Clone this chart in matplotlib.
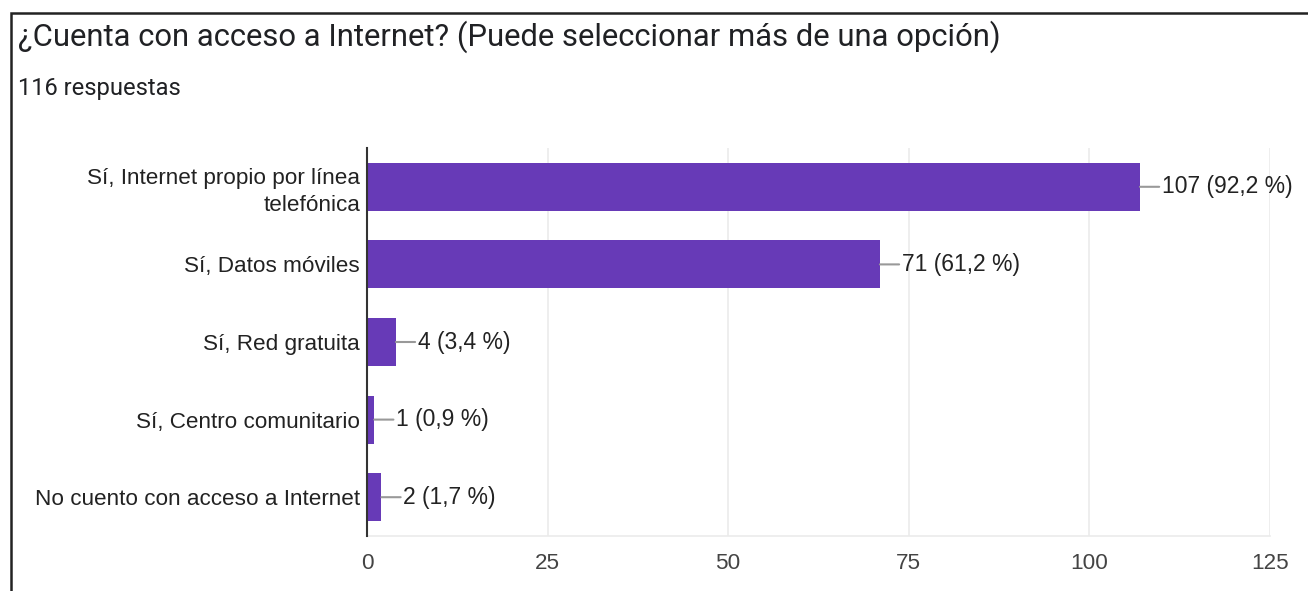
import matplotlib
matplotlib.use("Agg")
import matplotlib.pyplot as plt
from matplotlib.patches import Rectangle

categories = ["Sí, Internet propio por línea\ntelefónica", "Sí, Datos móviles",
              "Sí, Red gratuita", "Sí, Centro comunitario",
              "No cuento con acceso a Internet"]
values = [107, 71, 4, 1, 2]
value_labels = ["107 (92,2 %)", "71 (61,2 %)", "4 (3,4 %)", "1 (0,9 %)", "2 (1,7 %)"]
xticks = [0, 25, 50, 75, 100, 125]
title = "¿Cuenta con acceso a Internet? (Puede seleccionar más de una opción)"
subtitle = "116 respuestas"

W, H = 1308, 591
fig = plt.figure(figsize=(W / 100, H / 100), dpi=100)
fig.patch.set_facecolor("white")

# outer border
fig.patches.append(Rectangle((10.5 / W, -0.1), 1.2, 1 - 12.5 / H + 0.1,
                             transform=fig.transFigure, fill=False,
                             edgecolor="#222222", linewidth=1.8))

fig.text(18 / W, 1 - 37 / H, title, fontsize=22.3, family="Roboto",
         color="#202124", va="center", ha="left")
fig.text(18 / W, 1 - 88 / H, subtitle, fontsize=17.1, family="Roboto",
         color="#202124", va="center", ha="left")

ax = fig.add_axes([367 / W, 1 - 536 / H, (1270 - 367) / W, (536 - 148) / H])
y = list(range(len(categories)))
ax.barh(y, values, height=0.62, color="#673ab7", zorder=3)
ax.set_ylim(len(categories) - 0.5, -0.5)
ax.set_xlim(0, 125)
ax.set_xticks(xticks)
ax.set_xticklabels([str(t) for t in xticks])
ax.set_yticks(y)
ax.set_yticklabels(categories, ha="right", multialignment="right", linespacing=1.35)
ax.tick_params(axis="both", length=0, labelsize=16.2, labelcolor="#222222")
ax.tick_params(axis="x", pad=12, labelcolor="#444444")
ax.tick_params(axis="y", pad=5)
for lab in ax.get_xticklabels() + ax.get_yticklabels():
    lab.set_family("Liberation Sans")
ax.grid(axis="x", color="#ebebeb", linewidth=1.2, zorder=0)
for s in ["top", "right"]:
    ax.spines[s].set_visible(False)
ax.spines["bottom"].set_color("#ebebeb")
ax.spines["bottom"].set_linewidth(1.2)
ax.spines["left"].set_color("#333333")
ax.spines["left"].set_linewidth(1.5)
ax.spines["left"].set_zorder(4)

for yi, v, lab in zip(y, values, value_labels):
    ax.annotate(lab, xy=(v, yi), xytext=(22, 0), textcoords="offset pixels",
                ha="left", va="center", fontsize=16.5, family="Liberation Sans",
                color="#222222",
                arrowprops=dict(arrowstyle="-", color="#999999", lw=1.5,
                                shrinkA=0, shrinkB=0, relpos=(0, 0.5)))

fig.savefig("out.png", dpi=100)
